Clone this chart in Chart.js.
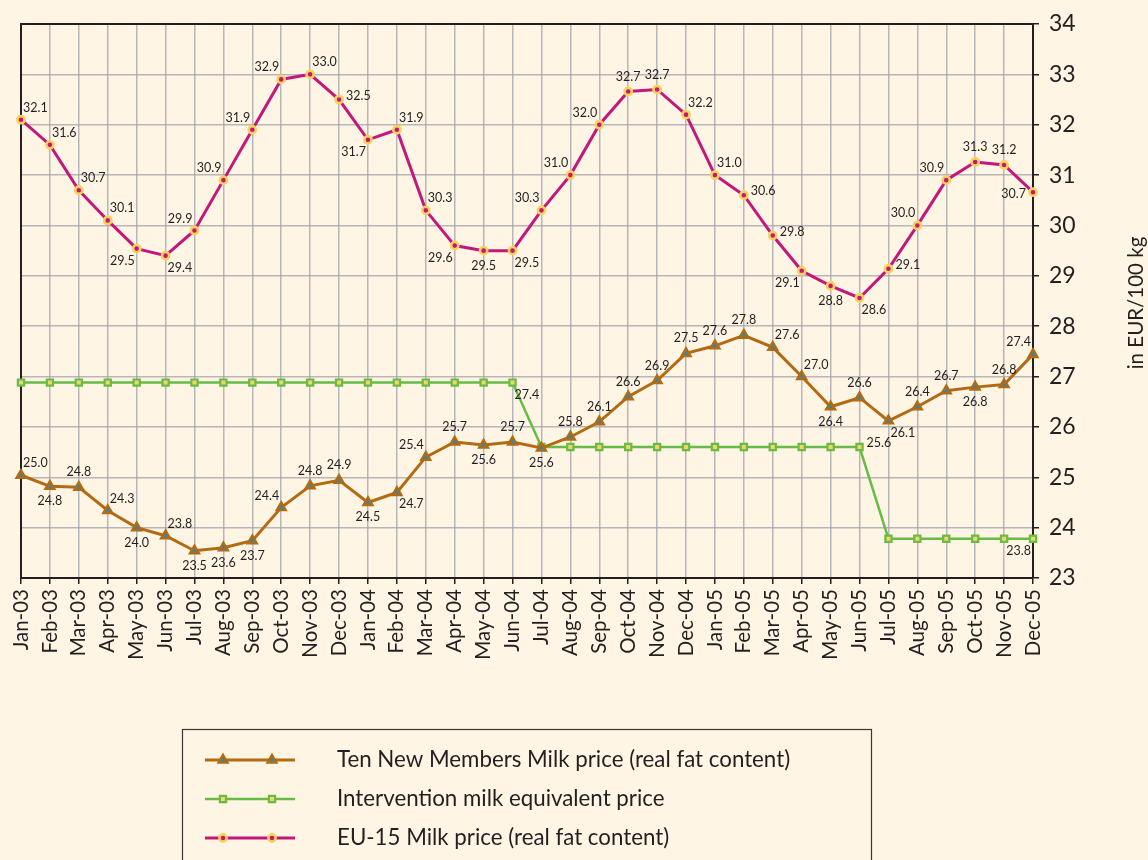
<!DOCTYPE html>
<html>
<head>
<meta charset="utf-8">
<script src="https://cdn.jsdelivr.net/npm/chart.js@4/dist/chart.umd.min.js"></script>
<style>
  html, body { margin: 0; padding: 0; background: #FFF5E4; }
  #wrap { width: 1148px; height: 860px; position: relative; }
</style>
</head>
<body>
<div id="wrap"><canvas id="c" width="1148" height="860"></canvas></div>
<script>
// ---------- DATA ----------
const months = ['Jan-03','Feb-03','Mar-03','Apr-03','May-03','Jun-03','Jul-03','Aug-03','Sep-03','Oct-03','Nov-03','Dec-03',
                'Jan-04','Feb-04','Mar-04','Apr-04','May-04','Jun-04','Jul-04','Aug-04','Sep-04','Oct-04','Nov-04','Dec-04',
                'Jan-05','Feb-05','Mar-05','Apr-05','May-05','Jun-05','Jul-05','Aug-05','Sep-05','Oct-05','Nov-05','Dec-05'];

const tenNewMembers = [25.04, 24.82, 24.8, 24.34, 24.0, 23.84, 23.54, 23.6, 23.74, 24.4, 24.83, 24.94,
                       24.5, 24.7, 25.4, 25.7, 25.64, 25.7, 25.58, 25.8, 26.1, 26.6, 26.92, 27.46,
                       27.61, 27.82, 27.58, 27.0, 26.4, 26.58, 26.12, 26.4, 26.72, 26.79, 26.84, 27.44];

const intervention = [26.88, 26.88, 26.88, 26.88, 26.88, 26.88, 26.88, 26.88, 26.88, 26.88, 26.88, 26.88,
                      26.88, 26.88, 26.88, 26.88, 26.88, 26.88, 25.6, 25.6, 25.6, 25.6, 25.6, 25.6,
                      25.6, 25.6, 25.6, 25.6, 25.6, 25.6, 23.78, 23.78, 23.78, 23.78, 23.78, 23.78];
// printed labels of the intervention series (only three are shown)
const interventionText = {17: '27.4', 29: '25.6', 35: '23.8'};

const eu15 = [32.1, 31.6, 30.7, 30.1, 29.54, 29.4, 29.9, 30.9, 31.9, 32.9, 33.0, 32.5,
              31.7, 31.9, 30.3, 29.6, 29.5, 29.5, 30.3, 31.0, 32.0, 32.66, 32.7, 32.2,
              31.0, 30.6, 29.8, 29.1, 28.8, 28.56, 29.14, 30.0, 30.9, 31.26, 31.2, 30.66];

const yTicks = [23, 24, 25, 26, 27, 28, 29, 30, 31, 32, 33, 34];

const seriesNames = ['Ten New Members Milk price (real fat content)',
                     'Intervention milk equivalent price',
                     'EU-15 Milk price (real fat content)'];

// ---------- LABEL PLACEMENT (style) ----------
const tnmPos = ['ar','b','a','ar','b','ar','b','b','b','al','a','a',
                'b','br','al','a','b','a','b','a','a','a','a','a',
                'a','a','ar','ar','b','a','br','a','a','b','a','al'];
const intPos = {17: 'br', 29: 'r', 35: 'bl'};
const euPos = ['ar','ar','ar','ar','bl','br','al','al','al','al','ar','r',
               'bl','ar','ar','bl','b','br','al','al','al','a','a','ar',
               'ar','r','r','bl','b','br','r','al','al','a','a','l'];

const FONT = 'Lato, "Open Sans", sans-serif';
const TEXT = '#231F20';
const C_TNM = '#B26B12', C_TNM_PT = '#1B8CC8';
const C_INT = '#68BC46', C_INT_PT = '#F6D36C';
const C_EU = '#C5177B', C_EU_PT = '#F8D25C';

function placeLabel(ctx, text, x, y, pos) {
  let tx = x, ty = y, align = 'center', base = 'middle';
  switch (pos) {
    case 'a':  ty = y - 15; break;
    case 'b':  ty = y + 15; break;
    case 'ar': tx = x + 2; ty = y - 12; align = 'left'; break;
    case 'al': tx = x - 2; ty = y - 12; align = 'right'; break;
    case 'br': tx = x + 2; ty = y + 12; align = 'left'; break;
    case 'bl': tx = x - 2; ty = y + 12; align = 'right'; break;
    case 'r':  tx = x + 7; ty = y - 4; align = 'left'; break;
    case 'l':  tx = x - 7; ty = y + 2; align = 'right'; break;
  }
  ctx.textAlign = align; ctx.textBaseline = base;
  ctx.fillText(text, tx, ty);
}

const labelPlugin = {
  id: 'valueLabels',
  afterDatasetsDraw(chart) {
    const ctx = chart.ctx;
    ctx.save();
    ctx.font = '12.5px ' + FONT;
    ctx.fillStyle = TEXT;
    const m0 = chart.getDatasetMeta(0).data;
    tenNewMembers.forEach((v, i) => placeLabel(ctx, v.toFixed(1), m0[i].x, m0[i].y, tnmPos[i]));
    const m1 = chart.getDatasetMeta(1).data;
    Object.keys(interventionText).forEach(k => placeLabel(ctx, interventionText[k], m1[k].x, m1[k].y, intPos[k]));
    const m2 = chart.getDatasetMeta(2).data;
    eu15.forEach((v, i) => placeLabel(ctx, v.toFixed(1), m2[i].x, m2[i].y, euPos[i]));
    ctx.restore();
  }
};

const framePlugin = {
  id: 'frame',
  beforeDatasetsDraw(chart) {
    const {ctx, chartArea: a} = chart;
    ctx.save();
    ctx.strokeStyle = TEXT; ctx.lineWidth = 2;
    ctx.beginPath();
    ctx.moveTo(a.left, a.bottom); ctx.lineTo(a.left, a.top); ctx.lineTo(a.right, a.top);
    ctx.stroke();
    ctx.restore();
  },
  afterDraw(chart) {
    const {ctx, chartArea: a} = chart;
    ctx.save();
    // axis title (reads bottom to top)
    ctx.font = '20.5px ' + FONT;
    ctx.fillStyle = TEXT;
    ctx.translate(1136, (a.top + a.bottom) / 2 + 2);
    ctx.rotate(-Math.PI / 2);
    ctx.textAlign = 'center'; ctx.textBaseline = 'middle';
    ctx.fillText('in EUR/100 kg', 0, 0);
    ctx.restore();

    // legend box
    ctx.save();
    ctx.strokeStyle = '#3A3536'; ctx.lineWidth = 1.2;
    ctx.strokeRect(182.5, 729.5, 689, 140);
    const rows = [760, 799, 838];
    const ds = chart.data.datasets;
    rows.forEach((ry, k) => {
      const d = ds[k];
      ctx.strokeStyle = d.borderColor; ctx.lineWidth = d.borderWidth;
      ctx.beginPath(); ctx.moveTo(205, ry); ctx.lineTo(295, ry); ctx.stroke();
      [223, 272].forEach(mx => {
        ctx.fillStyle = d.pointBackgroundColor; ctx.strokeStyle = d.pointBorderColor;
        ctx.lineWidth = d.pointBorderWidth;
        Chart.helpers.drawPoint(ctx, {
          pointStyle: d.pointStyle, radius: d.pointRadius, borderWidth: d.pointBorderWidth, rotation: 0
        }, mx, ry);
      });
      ctx.font = '22.3px ' + FONT; ctx.fillStyle = TEXT;
      ctx.textAlign = 'left'; ctx.textBaseline = 'middle';
      ctx.fillText(seriesNames[k], 337, ry);
    });
    ctx.restore();
  }
};

const chart = new Chart(document.getElementById('c'), {
  type: 'line',
  data: {
    labels: months,
    datasets: [
      { label: seriesNames[0], data: tenNewMembers, borderColor: C_TNM, borderWidth: 3,
        pointStyle: 'triangle', pointRadius: 5, pointBorderWidth: 2.5,
        pointBackgroundColor: C_TNM_PT, pointBorderColor: C_TNM, clip: false, tension: 0 },
      { label: seriesNames[1], data: intervention, borderColor: C_INT, borderWidth: 2.5,
        pointStyle: 'rect', pointRadius: 4.4, pointBorderWidth: 2.2,
        pointBackgroundColor: C_INT_PT, pointBorderColor: C_INT, clip: false, tension: 0 },
      { label: seriesNames[2], data: eu15, borderColor: C_EU, borderWidth: 3,
        pointStyle: 'circle', pointRadius: 3.6, pointBorderWidth: 2.6,
        pointBackgroundColor: C_EU, pointBorderColor: C_EU_PT, clip: false, tension: 0 }
    ]
  },
  options: {
    responsive: false,
    animation: false,
    layout: { padding: { left: 21, top: 24, right: 0, bottom: 0 } },
    plugins: { legend: { display: false }, tooltip: { enabled: false } },
    scales: {
      x: {
        type: 'category',
        offset: false,
        grid: { color: 'rgba(160,160,170,0.75)', lineWidth: 1.5, tickColor: TEXT, tickLength: 6, drawTicks: true },
        border: { color: TEXT, width: 2 },
        ticks: { autoSkip: false, minRotation: 90, maxRotation: 90, padding: 5, color: TEXT,
                 font: { family: FONT, size: 20.5 } },
        afterFit(s) { s.height = 860 - 578; }
      },
      y: {
        position: 'right',
        min: 23, max: 34,
        afterBuildTicks(s) { s.ticks = yTicks.map(v => ({ value: v })); },
        grid: { color: 'rgba(160,160,170,0.75)', lineWidth: 1.5, tickColor: TEXT, tickLength: 6 },
        border: { color: TEXT, width: 2 },
        ticks: { padding: 10, color: TEXT, font: { family: FONT, size: 23 } },
        afterFit(s) { s.width = 1148 - 1033; }
      }
    }
  },
  plugins: [framePlugin, labelPlugin]
});
</script>
</body>
</html>
